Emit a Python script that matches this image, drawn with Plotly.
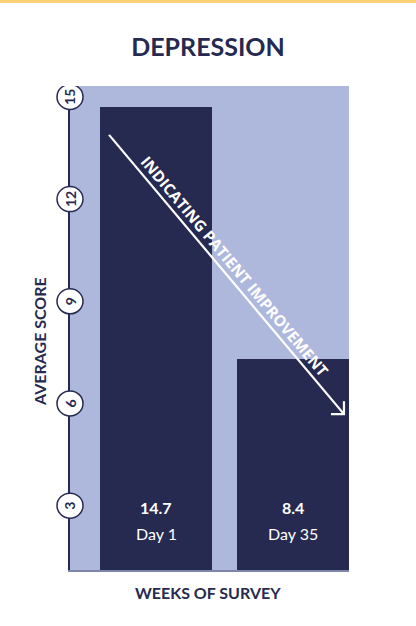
import plotly.graph_objects as go

# data
days = ["Day 1", "Day 35"]
score_labels = ["14.7", "8.4"]
bar_heights = [14.7, 7.3]   # bar tops as drawn against the axis
y_ticks = [3, 6, 9, 12, 15]

NAVY = "#262A50"
LIGHT = "#AEB8DC"
FONT = "Lato"

fig = go.Figure()

fig.add_trace(go.Bar(
    x=days,
    y=bar_heights,
    width=0.818,
    marker=dict(color=NAVY, line=dict(width=0)),
    hoverinfo="skip",
))

shapes = []
annotations = []

# yellow rule along the very top
shapes.append(dict(
    type="rect", xref="paper", x0=-0.3, x1=1.3,
    yref="paper", ysizemode="pixel", yanchor=1, y0=83, y1=86,
    fillcolor="#FFD27A", line=dict(width=0), layer="above",
))

# circled tick labels on the y axis
for t in y_ticks:
    shapes.append(dict(
        type="circle", xref="paper", xsizemode="pixel", xanchor=0, x0=-13, x1=13,
        yref="y", ysizemode="pixel", yanchor=t, y0=-12.5, y1=12.5,
        fillcolor="white", line=dict(color=NAVY, width=1.5), layer="above",
    ))
    annotations.append(dict(
        x=0, xref="paper", y=t, yref="y", text=f"<b>{t}</b>", textangle=-90,
        showarrow=False, font=dict(family=FONT, size=14, color=NAVY),
        xanchor="center", yanchor="middle",
    ))

# value and day labels inside the bars
for d, s in zip(days, score_labels):
    annotations.append(dict(
        x=d, y=0.130, yref="paper", text=f"<b>{s}</b>", showarrow=False,
        font=dict(family=FONT, size=16, color="white"), yanchor="middle",
    ))
    annotations.append(dict(
        x=d, y=0.076, yref="paper", text=d, showarrow=False,
        font=dict(family=FONT, size=16, color="white"), yanchor="middle",
    ))

# improvement arrow
shapes.append(dict(
    type="line", xref="paper", yref="paper", x0=0.140, y0=0.899, x1=0.982, y1=0.322,
    line=dict(color="white", width=2.2), layer="above",
))
shapes.append(dict(
    type="path", xref="paper", xsizemode="pixel", xanchor=0.982,
    yref="paper", ysizemode="pixel", yanchor=0.322,
    path="M -13 0 L 0 0 L 0 13", line=dict(color="white", width=2.2), layer="above",
))
annotations.append(dict(
    x=0.590, y=0.628, xref="paper", yref="paper",
    text="<b>INDICATING PATIENT IMPROVEMENT</b>", textangle=50, showarrow=False,
    font=dict(family="Open Sans", size=15.5, color="white"),
))

# axis titles
annotations.append(dict(
    x=0, xref="paper", xshift=-31, y=0.471, yref="paper",
    text="<b>AVERAGE SCORE</b>", textangle=-90, showarrow=False,
    font=dict(family=FONT, size=16, color=NAVY), xanchor="center", yanchor="middle",
))
annotations.append(dict(
    x=0.495, xref="paper", y=0, yref="paper", yshift=-22,
    text="<b>WEEKS OF SURVEY</b>", showarrow=False,
    font=dict(family=FONT, size=16, color=NAVY), yanchor="middle",
))

fig.update_layout(
    width=416, height=626,
    margin=dict(l=70, r=67, t=86, b=56),
    paper_bgcolor="white",
    plot_bgcolor=LIGHT,
    showlegend=False,
    title=dict(text="<b>DEPRESSION</b>", x=0.5, y=0.925, xanchor="center", yanchor="middle",
               font=dict(family=FONT, size=25, color=NAVY)),
    xaxis=dict(range=[-0.628, 1.409], showticklabels=False, showgrid=False, zeroline=False,
               showline=True, linecolor="#7E86A8", linewidth=1.5, ticks=""),
    yaxis=dict(range=[1.11, 15.32], tickvals=y_ticks, showticklabels=False, showgrid=False,
               zeroline=False, showline=True, linecolor=NAVY, linewidth=1.5, ticks=""),
    shapes=shapes,
    annotations=annotations,
    bargap=0,
)

# page body has a default 8px margin; drop it so the figure sits at the window corner
fig.write_html("out.html", config={"displayModeBar": False},
               post_script="document.body.style.margin='0';")
